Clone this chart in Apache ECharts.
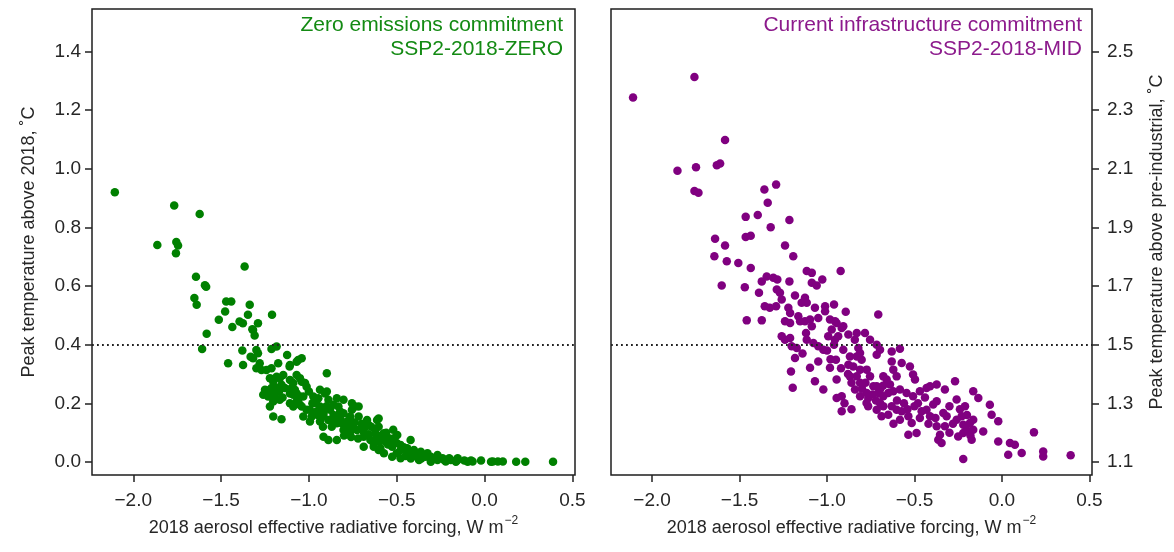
<!DOCTYPE html>
<html>
<head>
<meta charset="utf-8">
<script src="https://cdn.jsdelivr.net/npm/echarts@6/dist/echarts.min.js"></script>
<style>
html,body{margin:0;padding:0;background:#fff;}
#chart{width:1174px;height:552px;}
</style>
</head>
<body>
<div id="chart"></div>
<script>
// ---- data ----
const xTicks = [-2.0, -1.5, -1.0, -0.5, 0.0, 0.5];
const yTicksZero = [0.0, 0.2, 0.4, 0.6, 0.8, 1.0, 1.2, 1.4];
const yTicksMid = [1.1, 1.3, 1.5, 1.7, 1.9, 2.1, 2.3, 2.5];
const thresholdZero = 0.4;
const thresholdMid = 1.5;
const labelZero = ['Zero emissions commitment', 'SSP2-2018-ZERO'];
const labelMid = ['Current infrastructure commitment', 'SSP2-2018-MID'];

// [2018 aerosol ERF, peak warming above 2018]
const zeroCommitment = [
[-2.105,0.92],[-1.767,0.875],[-1.622,0.846],[-1.863,0.74],[-1.755,0.75],[-1.745,0.738],[-1.757,0.712],
[-1.366,0.667],[-1.643,0.632],[-1.592,0.603],[-1.585,0.598],[-1.652,0.559],[-1.639,0.536],
[-1.471,0.547],[-1.442,0.547],[-1.337,0.536],[-1.477,0.513],[-1.21,0.502],[-1.347,0.502],
[-1.513,0.485],[-1.395,0.479],[-1.376,0.473],[-1.29,0.473],[-1.436,0.46],[-1.322,0.453],
[-1.318,0.45],[-1.309,0.431],[-1.582,0.437],
[-1.608,0.385],[-1.379,0.38],[-1.299,0.382],[-1.29,0.371],[-1.213,0.385],[-1.184,0.394],
[-1.332,0.359],[-1.318,0.354],[-1.124,0.365],[-1.041,0.354],[-1.061,0.348],[-1.07,0.342],[-1.108,0.331],
[-1.46,0.337],[-1.375,0.331],[-1.28,0.337],[-1.175,0.337],[-1.11,0.326],
[-1.299,0.32],[-1.27,0.314],[-1.242,0.314],[-1.213,0.32],
[-1.146,0.297],[-1.07,0.297],[-1.051,0.286],[-0.898,0.303],
[-1.222,0.286],[-1.203,0.274],[-1.166,0.286],[-1.184,0.291],[-1.108,0.28],[-1.041,0.274],
[-1.089,0.269],[-1.022,0.269],[-1.013,0.257],
[-1.222,0.246],[-1.184,0.252],[-1.25,0.246],[-1.213,0.252],[-1.232,0.223],[-1.194,0.229],[-1.26,0.229],
[-1.156,0.263],[-1.137,0.252],[-1.099,0.252],[-1.108,0.234],[-1.089,0.229],[-1.08,0.246],[-1.07,0.234],
[-1.061,0.212],[-1.032,0.223],[-1.242,0.234],
[-0.937,0.246],[-0.898,0.24],[-0.908,0.234],[-0.975,0.223],[-0.946,0.217],[-0.889,0.212],
[-1.051,0.223],[-1.07,0.206],[-0.841,0.217],[-0.803,0.212],
[-1.203,0.206],[-1.166,0.212],[-1.222,0.189],
[-0.755,0.2],[-0.736,0.189],[-0.717,0.189],
[-1.089,0.189],[-1.051,0.195],[-1.013,0.178],[-1.108,0.2],[-1.041,0.189],[-0.994,0.178],[-0.956,0.172],[-0.917,0.178],
[-0.937,0.189],[-0.879,0.178],[-0.86,0.195],[-0.832,0.189],[-0.755,0.178],[-0.822,0.172],[-0.86,0.16],
[-0.975,0.166],[-0.917,0.166],[-0.803,0.166],[-0.765,0.155],
[-1.203,0.155],[-1.156,0.146],[-1.032,0.155],[-0.994,0.138],[-0.984,0.155],
[-0.937,0.138],[-0.889,0.143],[-0.841,0.132],[-0.917,0.155],[-0.841,0.155],[-0.717,0.155],
[-0.765,0.143],[-0.669,0.143],[-0.612,0.143],[-0.603,0.12],[-0.603,0.148],
[-0.917,0.086],[-0.889,0.075],[-0.841,0.075],
[-0.803,0.109],[-0.765,0.103],[-0.726,0.109],[-0.784,0.12],[-0.688,0.103],
[-0.688,0.086],[-0.65,0.075],[-0.688,0.052],[-0.631,0.052],
[-0.66,0.126],[-0.645,0.12],[-0.622,0.109],[-0.583,0.092],[-0.545,0.081],[-0.497,0.092],
[-0.603,0.041],[-0.573,0.03],[-0.526,0.052],[-0.478,0.041],[-0.44,0.047],[-0.421,0.075],
[-0.526,0.018],[-0.478,0.013],[-0.402,0.03],[-0.373,0.007],
[-0.325,0.03],[-0.296,0.013],[-0.268,0.007],[-0.23,0.007],[-0.192,0.007],[-0.153,0.007],
[-0.115,0.005],[-0.077,0.005],[-0.02,0.005],
[0.047,0.002],[0.076,0.002],[0.104,0.002],[0.18,0.001],[0.232,0.001],[0.39,0.001],
[-0.573,0.098],[-0.564,0.069],[-0.517,0.081],[-0.612,0.086],[-0.631,0.064],[-0.478,0.058],[-0.593,0.047],
[-0.402,0.041],[-0.363,0.035],[-0.383,0.024],[-0.335,0.018],[-0.306,0.018],[-0.268,0.024],
[-0.239,0.013],[-0.201,0.013],[-0.153,0.013],[-0.306,0.001],[-0.221,0.002],[-0.163,0.001],
[-0.096,0.001],[-0.068,0.002],[0.037,0.001],
[-0.87,0.12],[-0.81,0.13],[-0.75,0.125],[-0.7,0.13],[-0.66,0.095],[-0.6,0.07],[-0.55,0.06],
[-0.5,0.03],[-0.45,0.02],[-0.42,0.012],[-0.56,0.1],[-0.52,0.11],
[-0.96,0.2],[-0.9,0.19],[-0.86,0.14],[-0.82,0.145],[-0.78,0.14],[-0.74,0.135],[-0.7,0.115],
[-0.68,0.12],[-0.62,0.095],[-0.58,0.075],[-0.54,0.07],[-0.5,0.065],[-0.46,0.05],[-0.44,0.03],
[-0.4,0.02],[-0.36,0.012],[-0.98,0.2],[-1.0,0.24],[-1.15,0.22],[-1.17,0.24],[-0.8,0.09],
[-0.76,0.085],[-0.72,0.08],[-0.92,0.12],[-0.95,0.16]
];

// [2018 aerosol ERF, peak warming above pre-industrial]
const midCommitment = [
[-2.109,2.343],[-1.758,2.413],[-1.583,2.198],[-1.855,2.093],[-1.749,2.105],[-1.63,2.112],[-1.611,2.118],
[-1.758,2.024],[-1.735,2.018],[-1.358,2.029],[-1.291,2.046],[-1.339,1.984],
[-1.465,1.936],[-1.396,1.942],[-1.322,1.901],[-1.215,1.925],
[-1.64,1.861],[-1.583,1.838],[-1.465,1.867],[-1.436,1.872],[-1.24,1.838],
[-1.193,1.802],[-1.644,1.802],[-1.573,1.785],[-1.507,1.779],[-1.436,1.762],
[-1.602,1.702],[-1.47,1.696],
[-1.373,1.716],[-1.345,1.733],[-1.307,1.728],[-1.284,1.722],[-1.215,1.716],
[-1.116,1.751],[-1.087,1.745],[-1.027,1.722],[-0.922,1.751],[-1.087,1.711],[-1.059,1.702],
[-1.389,1.677],[-1.287,1.688],[-1.269,1.677],[-1.183,1.668],[-1.126,1.66],[-1.116,1.643],[-1.259,1.654],
[-1.356,1.631],[-1.327,1.626],[-1.291,1.631],[-1.221,1.626],[-1.211,1.608],[-1.145,1.643],[-1.164,1.597],
[-1.069,1.626],[-1.011,1.631],[-1.011,1.614],[-0.96,1.637],[-0.893,1.612],
[-1.05,1.591],[-1.097,1.586],[-1.126,1.58],
[-1.459,1.583],[-1.373,1.583],[-1.24,1.58],[-1.211,1.574],
[-0.983,1.586],[-0.945,1.574],[-0.907,1.563],
[-1.154,1.58],[-1.087,1.563],[-0.707,1.603],
[-1.259,1.529],[-1.24,1.517],[-1.211,1.523],[-1.202,1.495],[-1.173,1.489],
[-1.116,1.517],[-1.078,1.506],[-1.05,1.495],[-1.021,1.483],
[-0.993,1.529],[-0.955,1.517],[-0.936,1.529],
[-0.878,1.535],[-0.83,1.54],[-0.841,1.517],
[-0.783,1.54],[-0.754,1.517],[-0.716,1.5],[-0.697,1.483],
[-1.183,1.455],[-1.097,1.421],[-1.05,1.443],[-0.983,1.421],[-0.949,1.449],
[-0.907,1.483],[-0.869,1.46],[-0.83,1.46],[-0.811,1.472],
[-0.878,1.432],[-0.85,1.426],
[-1.206,1.409],[-1.196,1.353],
[-1.069,1.375],[-1.021,1.347],
[-0.945,1.381],[-0.869,1.392],[-0.83,1.392],[-0.811,1.37],
[-0.945,1.318],[-0.916,1.324],[-0.916,1.273],
[-0.84,1.347],[-0.811,1.324],[-0.773,1.335],[-0.735,1.358],
[-0.765,1.29],[-0.716,1.278],[-0.688,1.256],[-0.678,1.29],
[-0.678,1.392],[-0.697,1.347],
[-0.954,1.58],[-0.916,1.557],[-0.973,1.552],
[-0.821,1.489],[-0.802,1.449],
[-0.63,1.477],[-0.583,1.486],[-0.716,1.466],
[-0.811,1.415],[-0.773,1.415],[-0.754,1.392],
[-0.63,1.443],[-0.573,1.438],[-0.526,1.426],
[-0.621,1.415],[-0.602,1.392],[-0.508,1.398],[-0.497,1.381],
[-0.659,1.381],[-0.64,1.364],
[-0.716,1.358],[-0.707,1.335],[-0.678,1.324],[-0.65,1.335],[-0.621,1.341],[-0.583,1.347],
[-0.545,1.335],[-0.508,1.324],[-0.469,1.341],[-0.431,1.352],[-0.411,1.358],[-0.373,1.364],
[-0.326,1.347],[-0.268,1.375],
[-0.259,1.313],[-0.211,1.29],[-0.164,1.341],[-0.135,1.318],[-0.069,1.295],[-0.059,1.261],[-0.021,1.239],
[-0.764,1.318],[-0.774,1.301],
[-0.697,1.301],[-0.65,1.261],[-0.63,1.29],[-0.602,1.278],[-0.573,1.273],
[-0.583,1.244],[-0.535,1.256],[-0.516,1.233],[-0.469,1.25],[-0.459,1.273],[-0.431,1.278],[-0.411,1.256],
[-0.393,1.296],[-0.373,1.307],
[-0.335,1.267],[-0.316,1.256],[-0.326,1.222],
[-0.373,1.222],[-0.354,1.193],[-0.345,1.165],[-0.364,1.176],
[-0.535,1.193],[-0.488,1.199],
[-0.259,1.244],[-0.23,1.256],[-0.221,1.227],[-0.202,1.21],[-0.183,1.233],[-0.164,1.244],
[-0.25,1.187],[-0.221,1.199],[-0.173,1.176],[-0.164,1.21],
[-0.107,1.204],[-0.221,1.11],[-0.021,1.17],[0.046,1.165],[0.074,1.159],[0.036,1.125],[0.113,1.131],
[0.183,1.201],[0.236,1.136],[0.236,1.119],[0.393,1.123],
[-0.98,1.45],[-0.92,1.42],[-0.88,1.4],[-0.86,1.37],[-0.8,1.35],[-0.78,1.37],[-0.74,1.33],
[-0.72,1.31],[-0.68,1.36],[-0.6,1.31],[-0.56,1.3],[-0.54,1.28],[-0.5,1.29],[-0.48,1.3],
[-0.44,1.32],[-0.42,1.23],[-0.38,1.25],[-0.3,1.29],[-0.28,1.23],[-0.24,1.28],[-0.2,1.26],
[-0.18,1.19],[-0.3,1.2],[-1.0,1.48],[-0.96,1.5],[-1.14,1.47],[-1.12,1.54],[-0.9,1.3],
[-0.86,1.28],[-0.62,1.23]
];

// ---- chart ----
const FONT = 'Liberation Sans, Arial, sans-serif';
const TXT = '#262626';
const GREEN = '#008000';
const PURPLE = '#800080';
const fmt1 = v => (Math.round(v * 10) / 10).toFixed(1).replace('-', '\u2212');

function xAxisFor(gridIndex) {
  return {
    type: 'value', gridIndex, position: 'bottom',
    min: -2.235, max: 0.515,
    splitLine: {show: false},
    axisLine: {show: false, onZero: false},
    axisTick: {show: true, length: 7, lineStyle: {color: '#222', width: 1.5}, customValues: xTicks},
    axisLabel: {show: true, margin: 16, fontSize: 19, fontFamily: FONT, color: TXT,
      customValues: xTicks, formatter: fmt1},
    name: '2018 aerosol effective radiative forcing, W m{sup|\u22122}',
    nameLocation: 'middle', nameGap: 38,
    nameTextStyle: {fontSize: 18, fontFamily: FONT, color: TXT,
      rich: {sup: {fontSize: 12, fontFamily: FONT, color: TXT, padding: [0, 0, 14, 1]}}}
  };
}

const option = {
  backgroundColor: '#fff',
  animation: false,
  grid: [
    {left: 92, top: 9, width: 483, height: 466, show: true, borderColor: '#1e1e1e', borderWidth: 1.5, backgroundColor: 'transparent'},
    {left: 611, top: 9, width: 481, height: 466, show: true, borderColor: '#1e1e1e', borderWidth: 1.5, backgroundColor: 'transparent'}
  ],
  xAxis: [xAxisFor(0), xAxisFor(1)],
  yAxis: [
    {
      type: 'value', gridIndex: 0, position: 'left', min: -0.0444, max: 1.545,
      splitLine: {show: false}, axisLine: {show: false, onZero: false},
      axisTick: {show: true, length: 7, lineStyle: {color: '#222', width: 1.5}, customValues: yTicksZero},
      axisLabel: {margin: 11, fontSize: 19, fontFamily: FONT, color: TXT, customValues: yTicksZero, formatter: fmt1},
      name: 'Peak temperature above 2018, \u02DAC',
      nameLocation: 'middle', nameGap: 54, nameRotate: 90,
      nameTextStyle: {fontSize: 18, fontFamily: FONT, color: TXT}
    },
    {
      type: 'value', gridIndex: 1, position: 'right', min: 1.0556, max: 2.645,
      splitLine: {show: false}, axisLine: {show: false, onZero: false},
      axisTick: {show: true, length: 7, lineStyle: {color: '#222', width: 1.5}, customValues: yTicksMid},
      axisLabel: {margin: 15, fontSize: 19, fontFamily: FONT, color: TXT, customValues: yTicksMid, formatter: fmt1},
      name: 'Peak temperature above pre-industrial, \u02DAC',
      nameLocation: 'middle', nameGap: 56, nameRotate: 90,
      nameTextStyle: {fontSize: 18, fontFamily: FONT, color: TXT}
    }
  ],
  graphic: [
    {type: 'text', x: 563, y: 13, z: 10,
      style: {text: labelZero.join('\n'), align: 'right', verticalAlign: 'top', fill: '#138a13',
        fontSize: 21, lineHeight: 24, fontFamily: FONT}},
    {type: 'text', x: 1082, y: 13, z: 10,
      style: {text: labelMid.join('\n'), align: 'right', verticalAlign: 'top', fill: '#8c1a8c',
        fontSize: 21, lineHeight: 24, fontFamily: FONT}}
  ],
  series: [
    {
      type: 'scatter', xAxisIndex: 0, yAxisIndex: 0, data: zeroCommitment,
      symbol: 'circle', symbolSize: 8.5, itemStyle: {color: GREEN, opacity: 1},
      markLine: {silent: true, symbol: 'none', label: {show: false}, z: 5,
        lineStyle: {color: '#222', width: 1.8, type: [1.8, 3.2]},
        data: [{yAxis: thresholdZero}]}
    },
    {
      type: 'scatter', xAxisIndex: 1, yAxisIndex: 1, data: midCommitment,
      symbol: 'circle', symbolSize: 8.5, itemStyle: {color: PURPLE, opacity: 1},
      markLine: {silent: true, symbol: 'none', label: {show: false}, z: 5,
        lineStyle: {color: '#222', width: 1.8, type: [1.8, 3.2]},
        data: [{yAxis: thresholdMid}]}
    }
  ]
};

const chart = echarts.init(document.getElementById('chart'), null, {renderer: 'canvas'});
chart.setOption(option);
</script>
</body>
</html>
